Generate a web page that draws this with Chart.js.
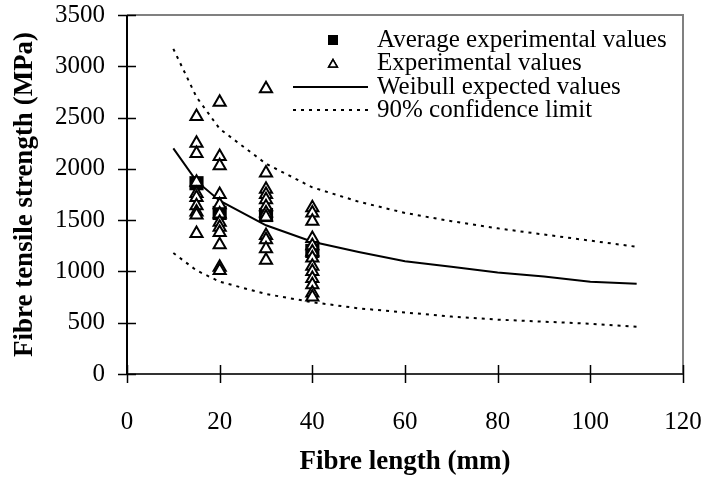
<!DOCTYPE html>
<html>
<head>
<meta charset="utf-8">
<script src="https://cdn.jsdelivr.net/npm/chart.js@4"></script>
<style>
  html, body { margin: 0; padding: 0; background: #fff; }
</style>
</head>
<body>
<canvas id="chart" width="709" height="478"></canvas>
<script>
// fibre length (mm) for the model curves
const lengths = [10, 15, 20, 30, 40, 50, 60, 70, 80, 90, 100, 110];
const weibullExpected = [2200, 1880, 1690, 1450, 1290, 1190, 1100, 1045, 990, 950, 900, 880];
const upperLimit = [3170, 2700, 2390, 2050, 1820, 1680, 1570, 1490, 1420, 1360, 1300, 1240];
const lowerLimit = [1180, 1010, 900, 780, 700, 640, 600, 560, 530, 510, 490, 460];

// experimental strengths (MPa) per tested length
const exp15 = [2510, 2250, 2150, 1870, 1760, 1720, 1640, 1580, 1550, 1370];
const exp20 = [2650, 2120, 2030, 1750, 1650, 1560, 1480, 1430, 1380, 1260, 1040, 1010];
const exp30 = [2780, 1960, 1800, 1750, 1700, 1630, 1570, 1530, 1350, 1310, 1220, 1110];
const exp40 = [1620, 1570, 1490, 1320, 1250, 1190, 1130, 1050, 1000, 930, 870, 790, 750];

const avgLengths = [15, 20, 30, 40];
const avgStrength = [1860, 1570, 1550, 1200];

const xTicks = [0, 20, 40, 60, 80, 100, 120];
const yTicks = [0, 500, 1000, 1500, 2000, 2500, 3000, 3500];

const SERIF = '"Liberation Serif", "Times New Roman", serif';

const pts = (xs, ys) => xs.map((x, i) => ({ x: x, y: ys[i] }));
const column = (x, ys) => ys.map(y => ({ x: x, y: y }));

const experimental = [].concat(column(15, exp15), column(20, exp20), column(30, exp30), column(40, exp40));

// plot frame + ticks crossing the axes
const framePlugin = {
  id: 'frame',
  beforeDatasetsDraw(chart) {
    const { ctx, chartArea: a, scales: { x, y } } = chart;
    ctx.save();
    ctx.lineWidth = 2;
    ctx.strokeStyle = '#808080';
    ctx.beginPath();
    ctx.moveTo(a.left, a.top); ctx.lineTo(a.right, a.top); ctx.lineTo(a.right, a.bottom);
    ctx.stroke();
    ctx.strokeStyle = '#333';
    ctx.beginPath();
    ctx.moveTo(a.left, a.bottom); ctx.lineTo(a.right, a.bottom);
    ctx.stroke();
    ctx.strokeStyle = '#000';
    ctx.beginPath();
    ctx.moveTo(a.left, a.top); ctx.lineTo(a.left, a.bottom);
    ctx.stroke();
    ctx.lineWidth = 1.5;
    ctx.beginPath();
    x.ticks.forEach(t => {
      const px = Math.round(x.getPixelForValue(t.value)) + 0.5;
      ctx.moveTo(px, a.bottom - 9); ctx.lineTo(px, a.bottom + 9);
    });
    y.ticks.forEach(t => {
      const py = Math.round(y.getPixelForValue(t.value)) + 0.5;
      ctx.moveTo(a.left - 9, py); ctx.lineTo(a.left + 9, py);
    });
    ctx.stroke();
    ctx.restore();
  }
};

// legend sitting inside the plot, top right
const legendPlugin = {
  id: 'inlineLegend',
  afterDraw(chart) {
    const ctx = chart.ctx;
    const ds = chart.data.datasets;
    const textX = 377, symX = 333, lineL = 293, lineR = 368;
    const rows = [40, 63.5, 87, 110];
    ctx.save();
    ctx.font = '25px ' + SERIF;
    ctx.fillStyle = '#000';
    ctx.textBaseline = 'middle';
    ctx.textAlign = 'left';
    [ds[0], ds[1], ds[2], ds[3]].forEach((d, i) => ctx.fillText(d.label, textX, rows[i]));

    ctx.fillRect(symX - 5, rows[0] - 5, 10, 10);

    ctx.lineWidth = 1.5;
    ctx.strokeStyle = '#000';
    ctx.fillStyle = '#fff';
    Chart.helpers.drawPoint(ctx, { pointStyle: 'triangle', radius: 5, borderWidth: 1.5 }, symX, rows[1] + 1);
    ctx.fill(); ctx.stroke();

    ctx.lineWidth = 2;
    ctx.beginPath();
    ctx.moveTo(lineL, rows[2]); ctx.lineTo(lineR, rows[2]);
    ctx.stroke();
    ctx.setLineDash([3, 5]);
    ctx.beginPath();
    ctx.moveTo(lineL, rows[3]); ctx.lineTo(lineR, rows[3]);
    ctx.stroke();
    ctx.restore();
  }
};

new Chart(document.getElementById('chart'), {
  type: 'scatter',
  data: {
    datasets: [
      {
        label: 'Average experimental values',
        data: pts(avgLengths, avgStrength),
        pointStyle: 'rect',
        pointRadius: 10,
        backgroundColor: '#000',
        borderColor: '#000',
        borderWidth: 0,
        order: 1,
      },
      {
        label: 'Experimental values',
        data: experimental,
        pointStyle: 'triangle',
        pointRadius: 7,
        backgroundColor: '#fff',
        borderColor: '#000',
        borderWidth: 2,
        order: 0,
      },
      {
        label: 'Weibull expected values',
        data: pts(lengths, weibullExpected),
        showLine: true,
        pointRadius: 0,
        borderColor: '#000',
        borderWidth: 2,
        order: 2,
      },
      {
        label: '90% confidence limit',
        data: pts(lengths, upperLimit),
        showLine: true,
        pointRadius: 0,
        borderColor: '#000',
        borderWidth: 2,
        borderDash: [3, 5],
        order: 2,
      },
      {
        label: '90% confidence limit (lower)',
        data: pts(lengths, lowerLimit),
        showLine: true,
        pointRadius: 0,
        borderColor: '#000',
        borderWidth: 2,
        borderDash: [3, 5],
        order: 2,
      },
    ],
  },
  options: {
    responsive: false,
    animation: false,
    events: [],
    layout: { autoPadding: false, padding: { top: 15, right: 26, bottom: 0, left: 0 } },
    plugins: { legend: { display: false }, tooltip: { enabled: false } },
    scales: {
      x: {
        type: 'linear',
        min: 0, max: 120,
        afterBuildTicks: s => { s.ticks = xTicks.map(v => ({ value: v })); },
        afterFit: s => { s.height = 104; s.paddingLeft = 0; s.paddingRight = 0; },
        grid: { display: false, drawTicks: false },
        border: { display: false },
        ticks: { color: '#000', padding: 33, font: { family: SERIF, size: 25 }, callback: v => String(v) },
        title: {
          display: true, text: 'Fibre length (mm)', color: '#000',
          padding: { top: 0, bottom: 0 },
          font: { family: SERIF, size: 27, weight: 'bold' },
        },
      },
      y: {
        type: 'linear',
        min: 0, max: 3500,
        afterBuildTicks: s => { s.ticks = yTicks.map(v => ({ value: v })); },
        afterFit: s => { s.width = 127; s.paddingTop = 0; s.paddingBottom = 0; },
        grid: { display: false, drawTicks: false },
        border: { display: false },
        ticks: { color: '#000', padding: 22, font: { family: SERIF, size: 25 }, callback: v => String(v) },
        title: {
          display: true, text: 'Fibre tensile strength (MPa)', color: '#000',
          padding: { top: 9, bottom: 0 },
          font: { family: SERIF, size: 27, weight: 'bold' },
        },
      },
    },
  },
  plugins: [framePlugin, legendPlugin],
});
</script>
</body>
</html>
